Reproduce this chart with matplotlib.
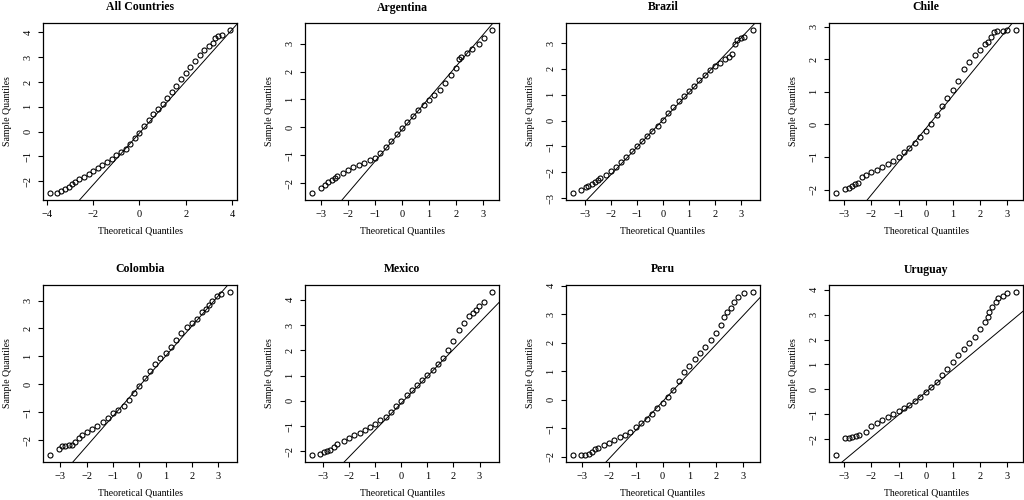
import numpy as np
import matplotlib.pyplot as plt
from matplotlib.ticker import MultipleLocator

plt.rcParams['font.family'] = ['Liberation Serif', 'DejaVu Serif']

titles = ["All Countries", "Argentina", "Brazil", "Chile",
          "Colombia", "Mexico", "Peru", "Uruguay"]

# theoretical / sample quantiles
all_x = [-3.86, -3.57, -3.38, -3.21, -3.06, -2.92, -2.8, -2.6, -2.4, -2.2, -2.0, -1.8, -1.6,
         -1.4, -1.2, -1.0, -0.8, -0.6, -0.4, -0.2, 0.0, 0.2, 0.4, 0.6, 0.8, 1.0, 1.2, 1.4,
         1.6, 1.8, 2.0, 2.2, 2.4, 2.6, 2.8, 3.0, 3.17, 3.27, 3.41, 3.58, 3.91]
all_y = [-2.49, -2.48, -2.39, -2.33, -2.22, -2.12, -2.04, -1.92, -1.82, -1.7, -1.57, -1.45, -1.34,
         -1.22, -1.1, -0.96, -0.82, -0.69, -0.5, -0.26, -0.05, 0.22, 0.46, 0.69, 0.9, 1.12, 1.36, 1.6,
         1.85, 2.1, 2.36, 2.61, 2.84, 3.07, 3.27, 3.45, 3.58, 3.76, 3.85, 3.88, 4.11]

arg_x = [-3.33, -3.0, -2.84, -2.74, -2.61, -2.47, -2.4, -2.2, -2.0, -1.8, -1.6, -1.4, -1.2,
         -1.0, -0.8, -0.6, -0.4, -0.2, 0.0, 0.2, 0.4, 0.6, 0.8, 1.0, 1.2, 1.4, 1.6, 1.8,
         2.0, 2.1, 2.2, 2.4, 2.6, 2.84, 3.05, 3.33]
arg_y = [-2.36, -2.15, -2.06, -1.94, -1.88, -1.79, -1.73, -1.62, -1.52, -1.43, -1.34, -1.27, -1.18,
         -1.08, -0.92, -0.71, -0.48, -0.24, -0.02, 0.19, 0.4, 0.61, 0.8, 0.98, 1.15, 1.35, 1.59, 1.87,
         2.13, 2.43, 2.52, 2.67, 2.82, 2.97, 3.19, 3.5]

bra_x = [-3.44, -3.13, -2.96, -2.86, -2.73, -2.62, -2.49, -2.4, -2.2, -2.0, -1.8, -1.6, -1.4,
         -1.2, -1.0, -0.8, -0.6, -0.4, -0.2, 0.0, 0.2, 0.4, 0.6, 0.8, 1.0, 1.2, 1.4, 1.6,
         1.8, 2.0, 2.2, 2.4, 2.53, 2.66, 2.78, 2.85, 3.0, 3.13, 3.45]
bra_y = [-2.82, -2.68, -2.56, -2.53, -2.46, -2.37, -2.29, -2.23, -2.1, -1.94, -1.79, -1.59, -1.4,
         -1.19, -1.0, -0.8, -0.6, -0.41, -0.21, 0.04, 0.28, 0.52, 0.75, 0.96, 1.14, 1.33, 1.55, 1.76,
         1.97, 2.1, 2.24, 2.37, 2.46, 2.59, 2.95, 3.11, 3.21, 3.24, 3.52]

chi_x = [-3.3, -2.99, -2.83, -2.71, -2.62, -2.5, -2.34, -2.2, -2.0, -1.8, -1.6, -1.4, -1.2,
         -1.0, -0.8, -0.6, -0.4, -0.2, 0.0, 0.2, 0.4, 0.6, 0.8, 1.0, 1.2, 1.4, 1.6, 1.8,
         2.0, 2.2, 2.3, 2.4, 2.52, 2.64, 2.83, 2.99, 3.32]
chi_y = [-2.12, -1.97, -1.95, -1.9, -1.82, -1.79, -1.61, -1.54, -1.46, -1.4, -1.32, -1.22, -1.11,
         -1.0, -0.86, -0.73, -0.58, -0.4, -0.2, 0.02, 0.3, 0.56, 0.81, 1.07, 1.33, 1.69, 1.9, 2.12,
         2.29, 2.46, 2.52, 2.67, 2.82, 2.88, 2.88, 2.9, 2.91]

col_x = [-3.39, -3.07, -2.95, -2.82, -2.69, -2.57, -2.44, -2.31, -2.19, -2.0, -1.8, -1.6, -1.4,
         -1.2, -1.0, -0.8, -0.6, -0.4, -0.2, 0.0, 0.2, 0.4, 0.6, 0.8, 1.0, 1.2, 1.4, 1.6,
         1.8, 2.0, 2.2, 2.4, 2.52, 2.64, 2.77, 2.94, 3.09, 3.44]
col_y = [-2.54, -2.3, -2.22, -2.21, -2.18, -2.16, -2.06, -1.92, -1.8, -1.7, -1.61, -1.49, -1.35,
         -1.2, -1.04, -0.9, -0.76, -0.56, -0.32, -0.06, 0.22, 0.49, 0.72, 0.94, 1.12, 1.33, 1.57, 1.83,
         2.05, 2.19, 2.35, 2.58, 2.7, 2.85, 2.97, 3.15, 3.24, 3.32]

mex_x = [-3.42, -3.13, -2.97, -2.85, -2.72, -2.59, -2.46, -2.2, -2.0, -1.8, -1.6, -1.4, -1.2,
         -1.0, -0.8, -0.6, -0.4, -0.2, 0.0, 0.2, 0.4, 0.6, 0.8, 1.0, 1.2, 1.4, 1.6, 1.8,
         2.0, 2.2, 2.4, 2.6, 2.73, 2.86, 2.99, 3.18, 3.47]
mex_y = [-2.16, -2.09, -2.03, -1.99, -1.93, -1.83, -1.72, -1.59, -1.47, -1.36, -1.26, -1.15, -1.03,
         -0.9, -0.77, -0.64, -0.44, -0.21, 0.0, 0.23, 0.42, 0.62, 0.82, 1.02, 1.22, 1.44, 1.68, 2.01,
         2.38, 2.81, 3.07, 3.34, 3.47, 3.6, 3.74, 3.91, 4.32]

per_x = [-3.34, -3.04, -2.88, -2.75, -2.65, -2.53, -2.4, -2.2, -2.0, -1.8, -1.6, -1.4, -1.2,
         -1.0, -0.8, -0.6, -0.4, -0.2, 0.0, 0.2, 0.4, 0.6, 0.8, 1.0, 1.2, 1.4, 1.6, 1.8,
         2.0, 2.2, 2.29, 2.42, 2.54, 2.66, 2.81, 3.04, 3.37]
per_y = [-1.95, -1.95, -1.92, -1.89, -1.83, -1.74, -1.68, -1.59, -1.51, -1.42, -1.32, -1.23, -1.11,
         -0.95, -0.81, -0.66, -0.48, -0.29, -0.11, 0.11, 0.36, 0.66, 0.98, 1.18, 1.45, 1.66, 1.86, 2.1,
         2.33, 2.63, 2.92, 3.09, 3.21, 3.45, 3.62, 3.74, 3.8]

uru_x = [-3.3, -2.99, -2.83, -2.71, -2.58, -2.46, -2.2, -2.0, -1.8, -1.6, -1.4, -1.2,
         -1.0, -0.8, -0.6, -0.4, -0.2, 0.0, 0.2, 0.4, 0.6, 0.8, 1.0, 1.2, 1.4, 1.6, 1.8,
         2.0, 2.2, 2.28, 2.34, 2.46, 2.58, 2.67, 2.83, 3.01, 3.32]
uru_y = [-2.66, -1.95, -1.95, -1.92, -1.88, -1.83, -1.7, -1.49, -1.36, -1.22, -1.1, -0.98,
         -0.86, -0.74, -0.62, -0.47, -0.31, -0.11, 0.09, 0.3, 0.57, 0.83, 1.1, 1.37, 1.64, 1.87, 2.09,
         2.41, 2.72, 2.92, 3.12, 3.32, 3.49, 3.66, 3.76, 3.89, 3.93]

theo = [all_x, arg_x, bra_x, chi_x, col_x, mex_x, per_x, uru_x]
samp = [all_y, arg_y, bra_y, chi_y, col_y, mex_y, per_y, uru_y]

# qqline: slope and intercept
line_slope = [1.04, 1.13, 1.06, 1.015, 1.074, 1.062, 1.003, 0.909]
line_icept = [-0.06, -0.08, 0.02, -0.13, -0.06, -0.09, -0.06, -0.12]
xstep = [2, 1, 1, 1, 1, 1, 1, 1]

fig = plt.figure(figsize=(10.24, 5.0), dpi=100)
W, H = 1024, 500
lefts = [43, 305, 566, 829]
tops = [23, 285]
aw, ah = 194, 177

for i in range(8):
    r, c = divmod(i, 4)
    ax = fig.add_axes([lefts[c] / W, (H - tops[r] - ah) / H, aw / W, ah / H])
    x = np.array(theo[i])
    y = np.array(samp[i])
    ax.plot(x, y, 'o', mfc='none', mec='black', ms=3.6, mew=0.8)
    ax.axline((0, line_icept[i]), slope=line_slope[i], color='black', lw=0.7)
    dx = (x.max() - x.min()) * 0.04
    dy = (y.max() - y.min()) * 0.04
    ax.set_xlim(x.min() - dx, x.max() + dx)
    ax.set_ylim(y.min() - dy, y.max() + dy)
    ax.xaxis.set_major_locator(MultipleLocator(xstep[i]))
    ax.yaxis.set_major_locator(MultipleLocator(1))
    ax.tick_params(labelsize=7.5, length=3.5, width=0.8, pad=4)
    plt.setp(ax.get_yticklabels(), rotation=90, va='center')
    for s in ax.spines.values():
        s.set_linewidth(0.9)
    ax.set_title(titles[i], fontsize=8.5, fontweight='bold', pad=9)
    ax.set_xlabel("Theoretical Quantiles", fontsize=7, labelpad=5)
    ax.set_ylabel("Sample Quantiles", fontsize=7, labelpad=8)

fig.savefig("out.png", dpi=100)
